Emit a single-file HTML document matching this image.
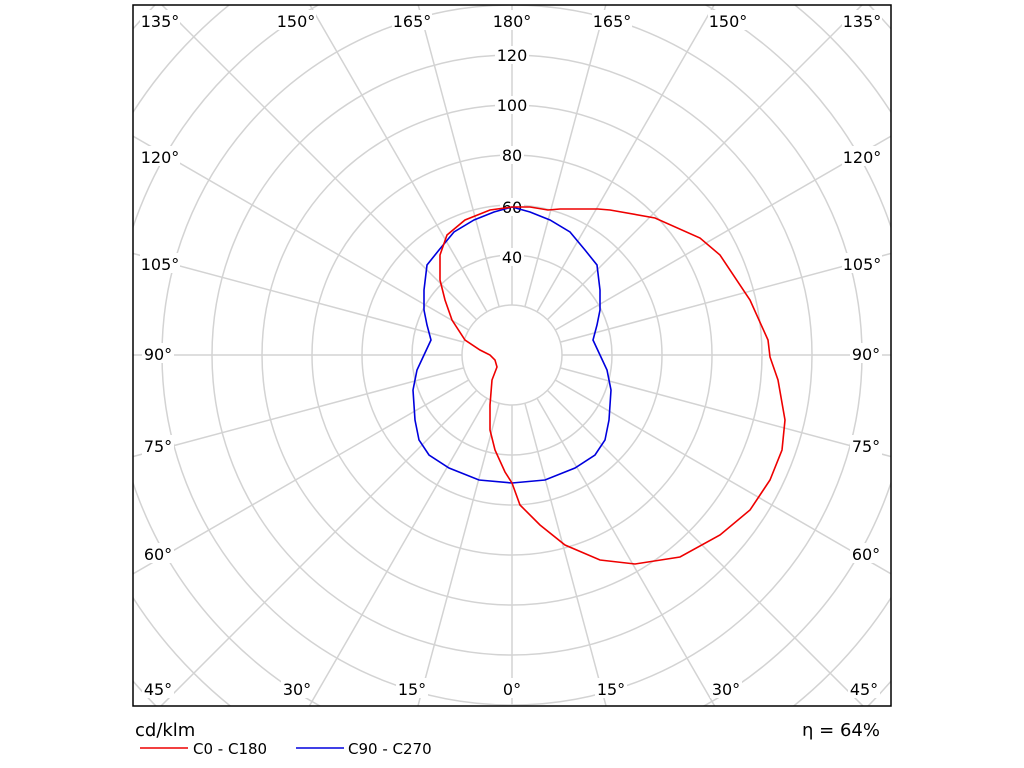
<!DOCTYPE html>
<html><head><meta charset="utf-8"><style>
html,body{margin:0;padding:0;background:#fff;overflow:hidden;width:1024px;height:768px;}
svg{display:block;}
svg text{font-family:"DejaVu Sans","Liberation Sans",sans-serif;}
</style></head><body>
<svg width="1024" height="768" xmlns="http://www.w3.org/2000/svg">
<defs><clipPath id="c"><rect x="133" y="5" width="758" height="701"/></clipPath></defs>
<g clip-path="url(#c)" stroke="#d3d3d3" stroke-width="1.5" fill="none">
<circle cx="512" cy="355" r="50"/><circle cx="512" cy="355" r="100"/><circle cx="512" cy="355" r="150"/><circle cx="512" cy="355" r="200"/><circle cx="512" cy="355" r="250"/><circle cx="512" cy="355" r="300"/><circle cx="512" cy="355" r="350"/><circle cx="512" cy="355" r="400"/><circle cx="512" cy="355" r="450"/><circle cx="512" cy="355" r="500"/><circle cx="512" cy="355" r="550"/>
</g>
<g clip-path="url(#c)" stroke="#d3d3d3" stroke-width="1.5">
<line x1="512" y1="405" x2="512" y2="955"/>
<line x1="524.9" y1="403.3" x2="654.4" y2="886.3"/>
<line x1="537" y1="398.3" x2="787" y2="831.3"/>
<line x1="547.4" y1="390.4" x2="901" y2="744"/>
<line x1="555.3" y1="380" x2="988.3" y2="630"/>
<line x1="560.3" y1="367.9" x2="1043.3" y2="497.4"/>
<line x1="562" y1="355" x2="1062" y2="355"/>
<line x1="560.3" y1="342.1" x2="1043.3" y2="212.6"/>
<line x1="555.3" y1="330" x2="988.3" y2="80"/>
<line x1="547.4" y1="319.6" x2="901" y2="-34"/>
<line x1="537" y1="311.7" x2="787" y2="-121.3"/>
<line x1="524.9" y1="306.7" x2="654.4" y2="-176.3"/>
<line x1="512" y1="305" x2="512" y2="-245"/>
<line x1="499.1" y1="306.7" x2="369.6" y2="-176.3"/>
<line x1="487" y1="311.7" x2="237" y2="-121.3"/>
<line x1="476.6" y1="319.6" x2="123" y2="-34"/>
<line x1="468.7" y1="330" x2="35.7" y2="80"/>
<line x1="463.7" y1="342.1" x2="-19.3" y2="212.6"/>
<line x1="462" y1="355" x2="-38" y2="355"/>
<line x1="463.7" y1="367.9" x2="-19.3" y2="497.4"/>
<line x1="468.7" y1="380" x2="35.7" y2="630"/>
<line x1="476.6" y1="390.4" x2="123" y2="744"/>
<line x1="487" y1="398.3" x2="237" y2="831.3"/>
<line x1="499.1" y1="403.3" x2="369.6" y2="886.3"/>
</g>
<g fill="#fff">
<rect x="495" y="46" width="34" height="18"/><rect x="495" y="96" width="34" height="18"/><rect x="500" y="146" width="24" height="18"/><rect x="500" y="198" width="24" height="18"/><rect x="500" y="248" width="24" height="18"/>
<rect x="140" y="10" width="40" height="20"/><rect x="276" y="10" width="40" height="20"/><rect x="392" y="10" width="40" height="20"/><rect x="492" y="10" width="40" height="20"/><rect x="592" y="10" width="40" height="20"/><rect x="708" y="10" width="40" height="20"/><rect x="842" y="10" width="40" height="20"/>
<rect x="142" y="678" width="32" height="20"/><rect x="281" y="678" width="32" height="20"/><rect x="396" y="678" width="32" height="20"/><rect x="500" y="678" width="24" height="20"/><rect x="595" y="678" width="32" height="20"/><rect x="710" y="678" width="32" height="20"/><rect x="848" y="678" width="32" height="20"/>
<rect x="140" y="146" width="40" height="20"/><rect x="140" y="253" width="40" height="20"/><rect x="142" y="343" width="32" height="20"/><rect x="142" y="435" width="32" height="20"/><rect x="142" y="543" width="32" height="20"/>
<rect x="842" y="146" width="40" height="20"/><rect x="842" y="253" width="40" height="20"/><rect x="850" y="343" width="32" height="20"/><rect x="850" y="435" width="32" height="20"/><rect x="850" y="543" width="32" height="20"/>
</g>
<rect x="133" y="5" width="758" height="701" fill="none" stroke="#000" stroke-width="1.5"/>
<g font-size="16" text-anchor="middle" fill="#000">
<text x="512" y="61">120</text><text x="512" y="111">100</text><text x="512" y="161">80</text><text x="512" y="213">60</text><text x="512" y="263">40</text>
<text x="160" y="27">135°</text><text x="296" y="27">150°</text><text x="412" y="27">165°</text><text x="512" y="27">180°</text><text x="612" y="27">165°</text><text x="728" y="27">150°</text><text x="862" y="27">135°</text>
<text x="158" y="695">45°</text><text x="297" y="695">30°</text><text x="412" y="695">15°</text><text x="512" y="695">0°</text><text x="611" y="695">15°</text><text x="726" y="695">30°</text><text x="864" y="695">45°</text>
<text x="160" y="163">120°</text><text x="160" y="270">105°</text><text x="158" y="360">90°</text><text x="158" y="452">75°</text><text x="158" y="560">60°</text>
<text x="862" y="163">120°</text><text x="862" y="270">105°</text><text x="866" y="360">90°</text><text x="866" y="452">75°</text><text x="866" y="560">60°</text>
</g>
<polyline fill="none" stroke="#0000dd" stroke-width="1.6" points="512,207 530,212 550,220 570,232 585,250 597,265 600,290 600,310 597,325 593,340 600,355 607,370 611,390 609,420 605,440 595,455 575,468 545,480 512,483 479,480 449,468 429,455 419,440 415,420 413,390 417,370 424,355 431,340 427,325 424,310 424,290 427,265 439,250 454,232 474,220 494,212 512,207"/>
<polyline fill="none" stroke="#ee0000" stroke-width="1.6" points="512,483 520,505 540,525 565,545 600,560 635,564 680,557 720,535 750,510 770,480 782,450 785,420 778,380 770,357 768,340 750,300 720,255 700,238 655,218 610,210 598,209 560,209 548,210 530,207 512,207 490,210 465,220 447,235 440,255 440,280 445,300 452,320 465,340 480,350 490,355 495,360 497,367 492,380 490,405 490,430 495,450 505,472 512,483"/>
<text x="135" y="736" font-size="18">cd/klm</text>
<text x="880" y="736" font-size="18" text-anchor="end">η = 64%</text>
<line x1="140" y1="748" x2="188" y2="748" stroke="#ee0000" stroke-width="1.6"/>
<text x="193" y="754" font-size="15">C0 - C180</text>
<line x1="296" y1="748" x2="344" y2="748" stroke="#0000dd" stroke-width="1.6"/>
<text x="348" y="754" font-size="15">C90 - C270</text>
</svg>
</body></html>
